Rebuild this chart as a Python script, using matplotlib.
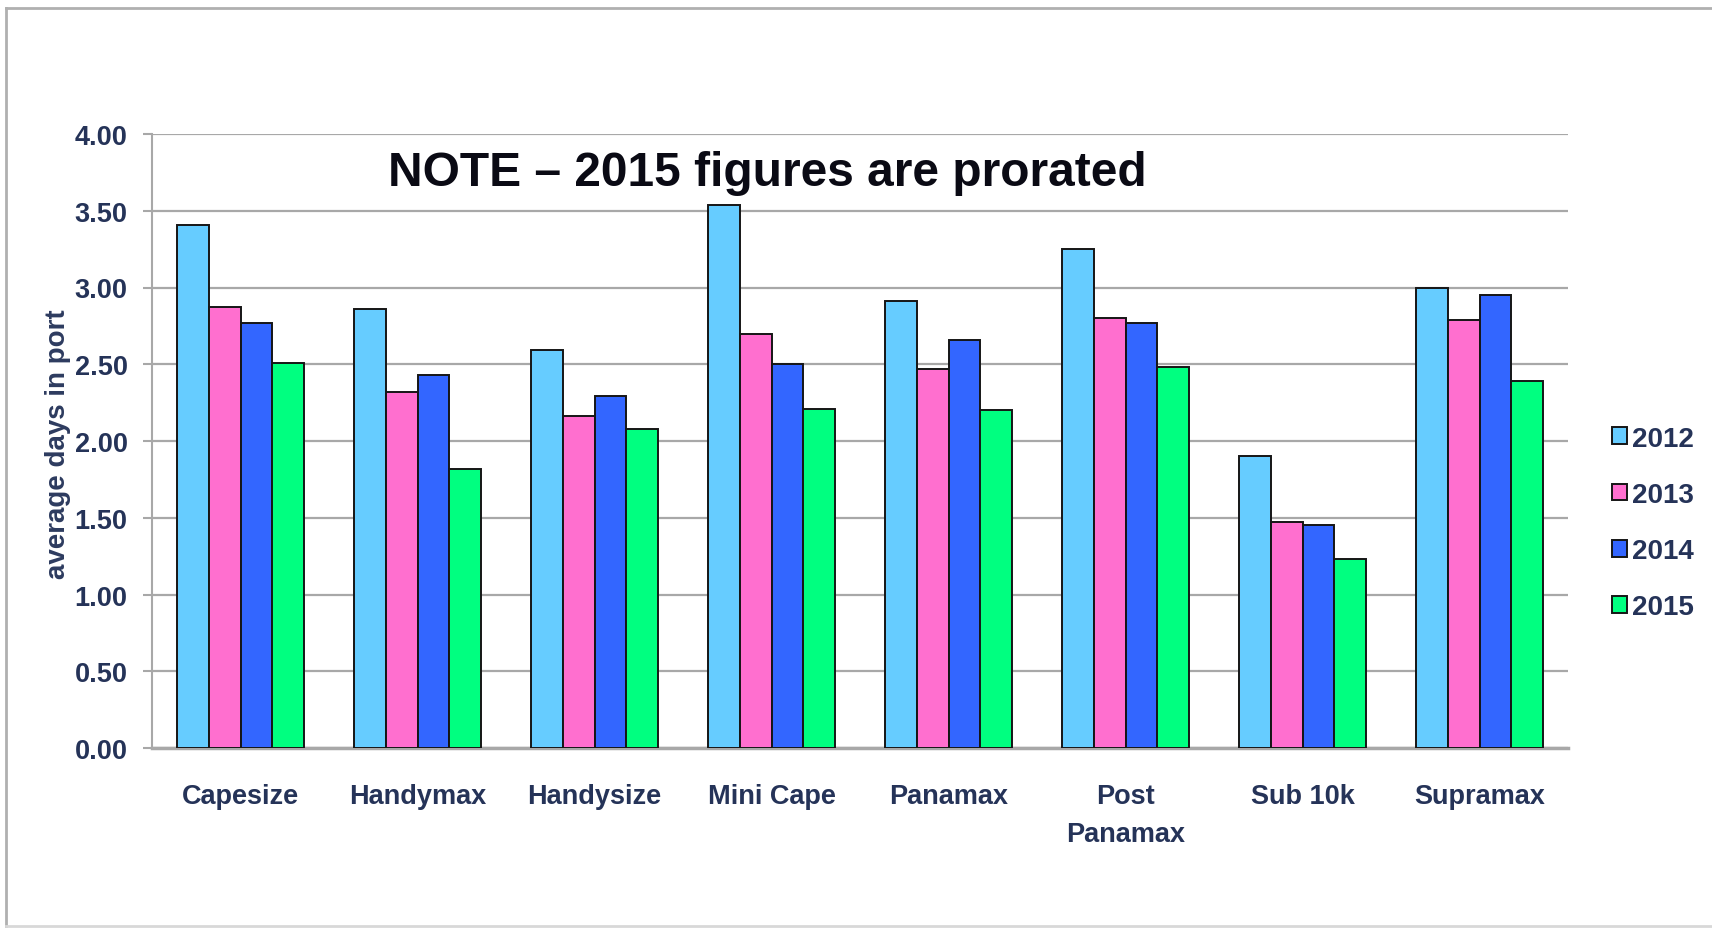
import numpy as np
import matplotlib
matplotlib.use("Agg")
import matplotlib.pyplot as plt
from matplotlib.lines import Line2D

# ---- data ----
categories = ["Capesize", "Handymax", "Handysize", "Mini Cape", "Panamax",
              "Post\nPanamax", "Sub 10k", "Supramax"]
years = ["2012", "2013", "2014", "2015"]
v2012 = [3.41, 2.86, 2.59, 3.54, 2.91, 3.25, 1.90, 3.00]
v2013 = [2.87, 2.32, 2.16, 2.70, 2.47, 2.80, 1.47, 2.79]
v2014 = [2.77, 2.43, 2.29, 2.50, 2.66, 2.77, 1.45, 2.95]
v2015 = [2.51, 1.82, 2.08, 2.21, 2.20, 2.48, 1.23, 2.39]
yticks = [0, 0.5, 1.0, 1.5, 2.0, 2.5, 3.0, 3.5, 4.0]

COLORS = ["#66ccff", "#ff6fcf", "#3366ff", "#00ff80"]
NAVY = "#253358"; GRID = "#a8a8a8"
NARROW = ["Liberation Sans Narrow", "Liberation Sans"]

W, H = 1712, 929
fig = plt.figure(figsize=(W/100, H/100), dpi=100)
ax = fig.add_axes([152/W, 1-749/H, (1568-152)/W, (749-135)/H])

x = np.arange(len(categories)); bw = 0.18
for i, (yr, vals) in enumerate(zip(years, [v2012, v2013, v2014, v2015])):
    ax.bar(x + (i-1.5)*bw, vals, bw, color=COLORS[i], edgecolor="#151515",
           linewidth=1.4, label=yr, zorder=3)

ax.set_xlim(-0.5, len(categories)-0.5); ax.set_ylim(0, 4.0)
ax.set_yticks(yticks)
ax.set_yticklabels([f"{t:.2f}" for t in yticks], family=NARROW, weight="bold",
                   fontsize=19.5, color=NAVY)
ax.set_xticks(x)
ax.set_xticklabels(categories, family=NARROW, weight="bold", fontsize=19.5,
                   color=NAVY, linespacing=1.6)
ax.tick_params(axis="y", length=6.5, width=1.5, color=GRID, pad=11)
ax.tick_params(axis="x", length=0, pad=25)
ax.spines[["top", "right"]].set_visible(False)
ax.spines["left"].set_color(GRID); ax.spines["left"].set_linewidth(1.5)
ax.spines["bottom"].set_color(GRID); ax.spines["bottom"].set_linewidth(2.5)
ax.yaxis.grid(True, color=GRID, lw=1.6); ax.set_axisbelow(True)

ax.set_ylabel("average days in port", family="Liberation Sans", weight="bold",
              fontsize=20, color="#2d3b5f")
ax.yaxis.set_label_coords(-0.057, 0.497)

fig.text(388/W, 1-186/H, "NOTE \u2013 2015 figures are prorated", family="Liberation Sans",
         weight="bold", fontsize=34.5, color="#0a0a14", ha="left", va="baseline")

ax.legend(loc="center left", bbox_to_anchor=(1612/W, 1-524/H), bbox_transform=fig.transFigure,
          frameon=False, handlelength=0.55, handleheight=0.55, handletextpad=0.17,
          labelspacing=1.09, borderpad=0, borderaxespad=0,
          prop=dict(family=NARROW, weight="bold", size=20), labelcolor=NAVY)

# slide frame
fc = "#b0b0b0"
fig.add_artist(Line2D([6/W, 6/W], [1-927/H, 1-9/H], color=fc, lw=2, transform=fig.transFigure))
fig.add_artist(Line2D([6/W, 1], [1-9/H, 1-9/H], color=fc, lw=2, transform=fig.transFigure))
fig.add_artist(Line2D([6/W, 1], [1-927/H, 1-927/H], color="#d8d8d8", lw=2, transform=fig.transFigure))

fig.savefig("out.png", dpi=100)
